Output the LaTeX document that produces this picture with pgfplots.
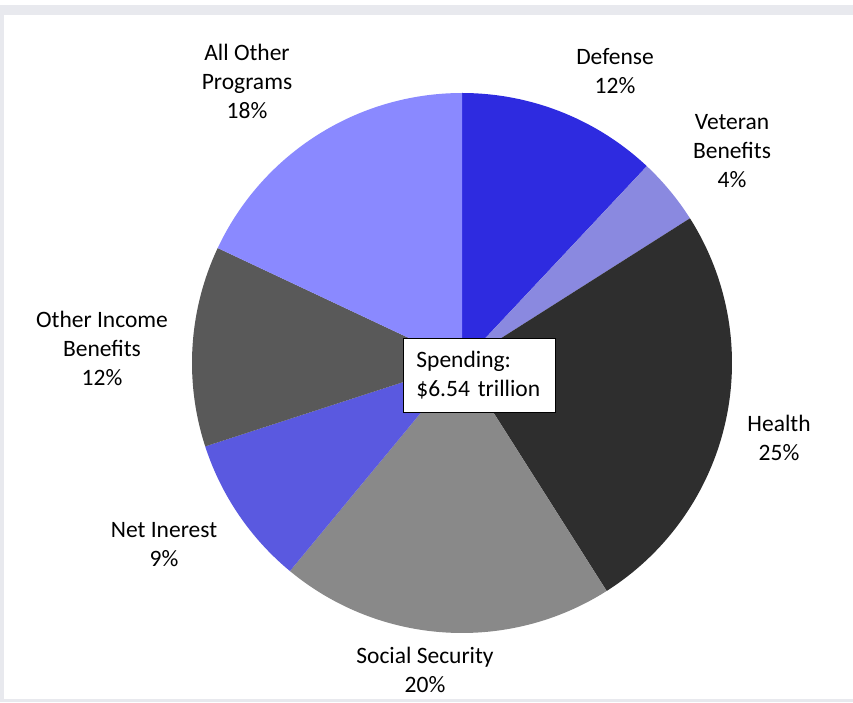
\documentclass[border=0pt]{standalone}
\usepackage{pgfplots}
\usepackage{pgfplotstable}
\pgfplotsset{compat=1.18}
\usepackage{fontspec}
\setmainfont{Carlito}
\definecolor{pie0}{HTML}{2E2BE0}
\definecolor{pie1}{HTML}{8A89E0}
\definecolor{pie2}{HTML}{2E2E2E}
\definecolor{pie3}{HTML}{898989}
\definecolor{pie4}{HTML}{5A59E0}
\definecolor{pie5}{HTML}{595959}
\definecolor{pie6}{HTML}{8A89FF}
\definecolor{bggray}{HTML}{E8E9EE}
\tikzset{lbl/.style={font=\fontsize{23.5}{29}\selectfont, align=center, text=black, inner sep=0pt}}
\pgfplotstableread{
label pct
Defense 12
Veteran 4
Health 25
Social 20
Interest 9
Income 12
Other 18
}\piedata
\begin{document}
\begin{tikzpicture}
\begin{axis}[hide axis, x=1pt, y=1pt, scale only axis,
  xmin=0, xmax=853, ymin=0, ymax=702, clip=false]
\fill[white] (axis cs:0,0) rectangle (axis cs:853,702);
\fill[bggray] (axis cs:0,0) rectangle (axis cs:853,697);
\fill[white] (axis cs:4,3) rectangle (axis cs:853,687);
\pgfmathsetmacro\cum{90}
\pgfplotsforeachungrouped \i in {0,...,6}{%
  \pgfplotstablegetelem{\i}{pct}\of\piedata
  \pgfmathsetmacro\aone{\cum}%
  \pgfmathsetmacro\atwo{\cum-3.6*\pgfplotsretval}%
  \edef\cmd{\noexpand\fill[pie\i] (axis cs:462,339) -- ++(\aone:270pt) arc[start angle=\aone, end angle=\atwo, radius=270pt] -- cycle;}%
  \cmd
  \global\let\cum\atwo
}
\node[lbl] at (axis cs:247,621) {All Other\\Programs\\18\%};
\node[lbl] at (axis cs:615,631) {Defense\\12\%};
\node[lbl] at (axis cs:732,551) {Veteran\\Benefits\\4\%};
\node[lbl] at (axis cs:779,264) {Health\\25\%};
\node[lbl] at (axis cs:425,32) {Social Security\\20\%};
\node[lbl] at (axis cs:164,157) {Net Inerest\\9\%};
\node[lbl] at (axis cs:102,354) {Other Income\\Benefits\\12\%};
\node[draw=black, line width=0.8pt, fill=white, anchor=west, inner xsep=13pt, inner ysep=0pt, text width=126pt, minimum height=74pt, align=left, font=\fontsize{23.5}{29}\selectfont] at (axis cs:403,327) {Spending:\\\$6.54 trillion};
\end{axis}
\end{tikzpicture}
\end{document}
